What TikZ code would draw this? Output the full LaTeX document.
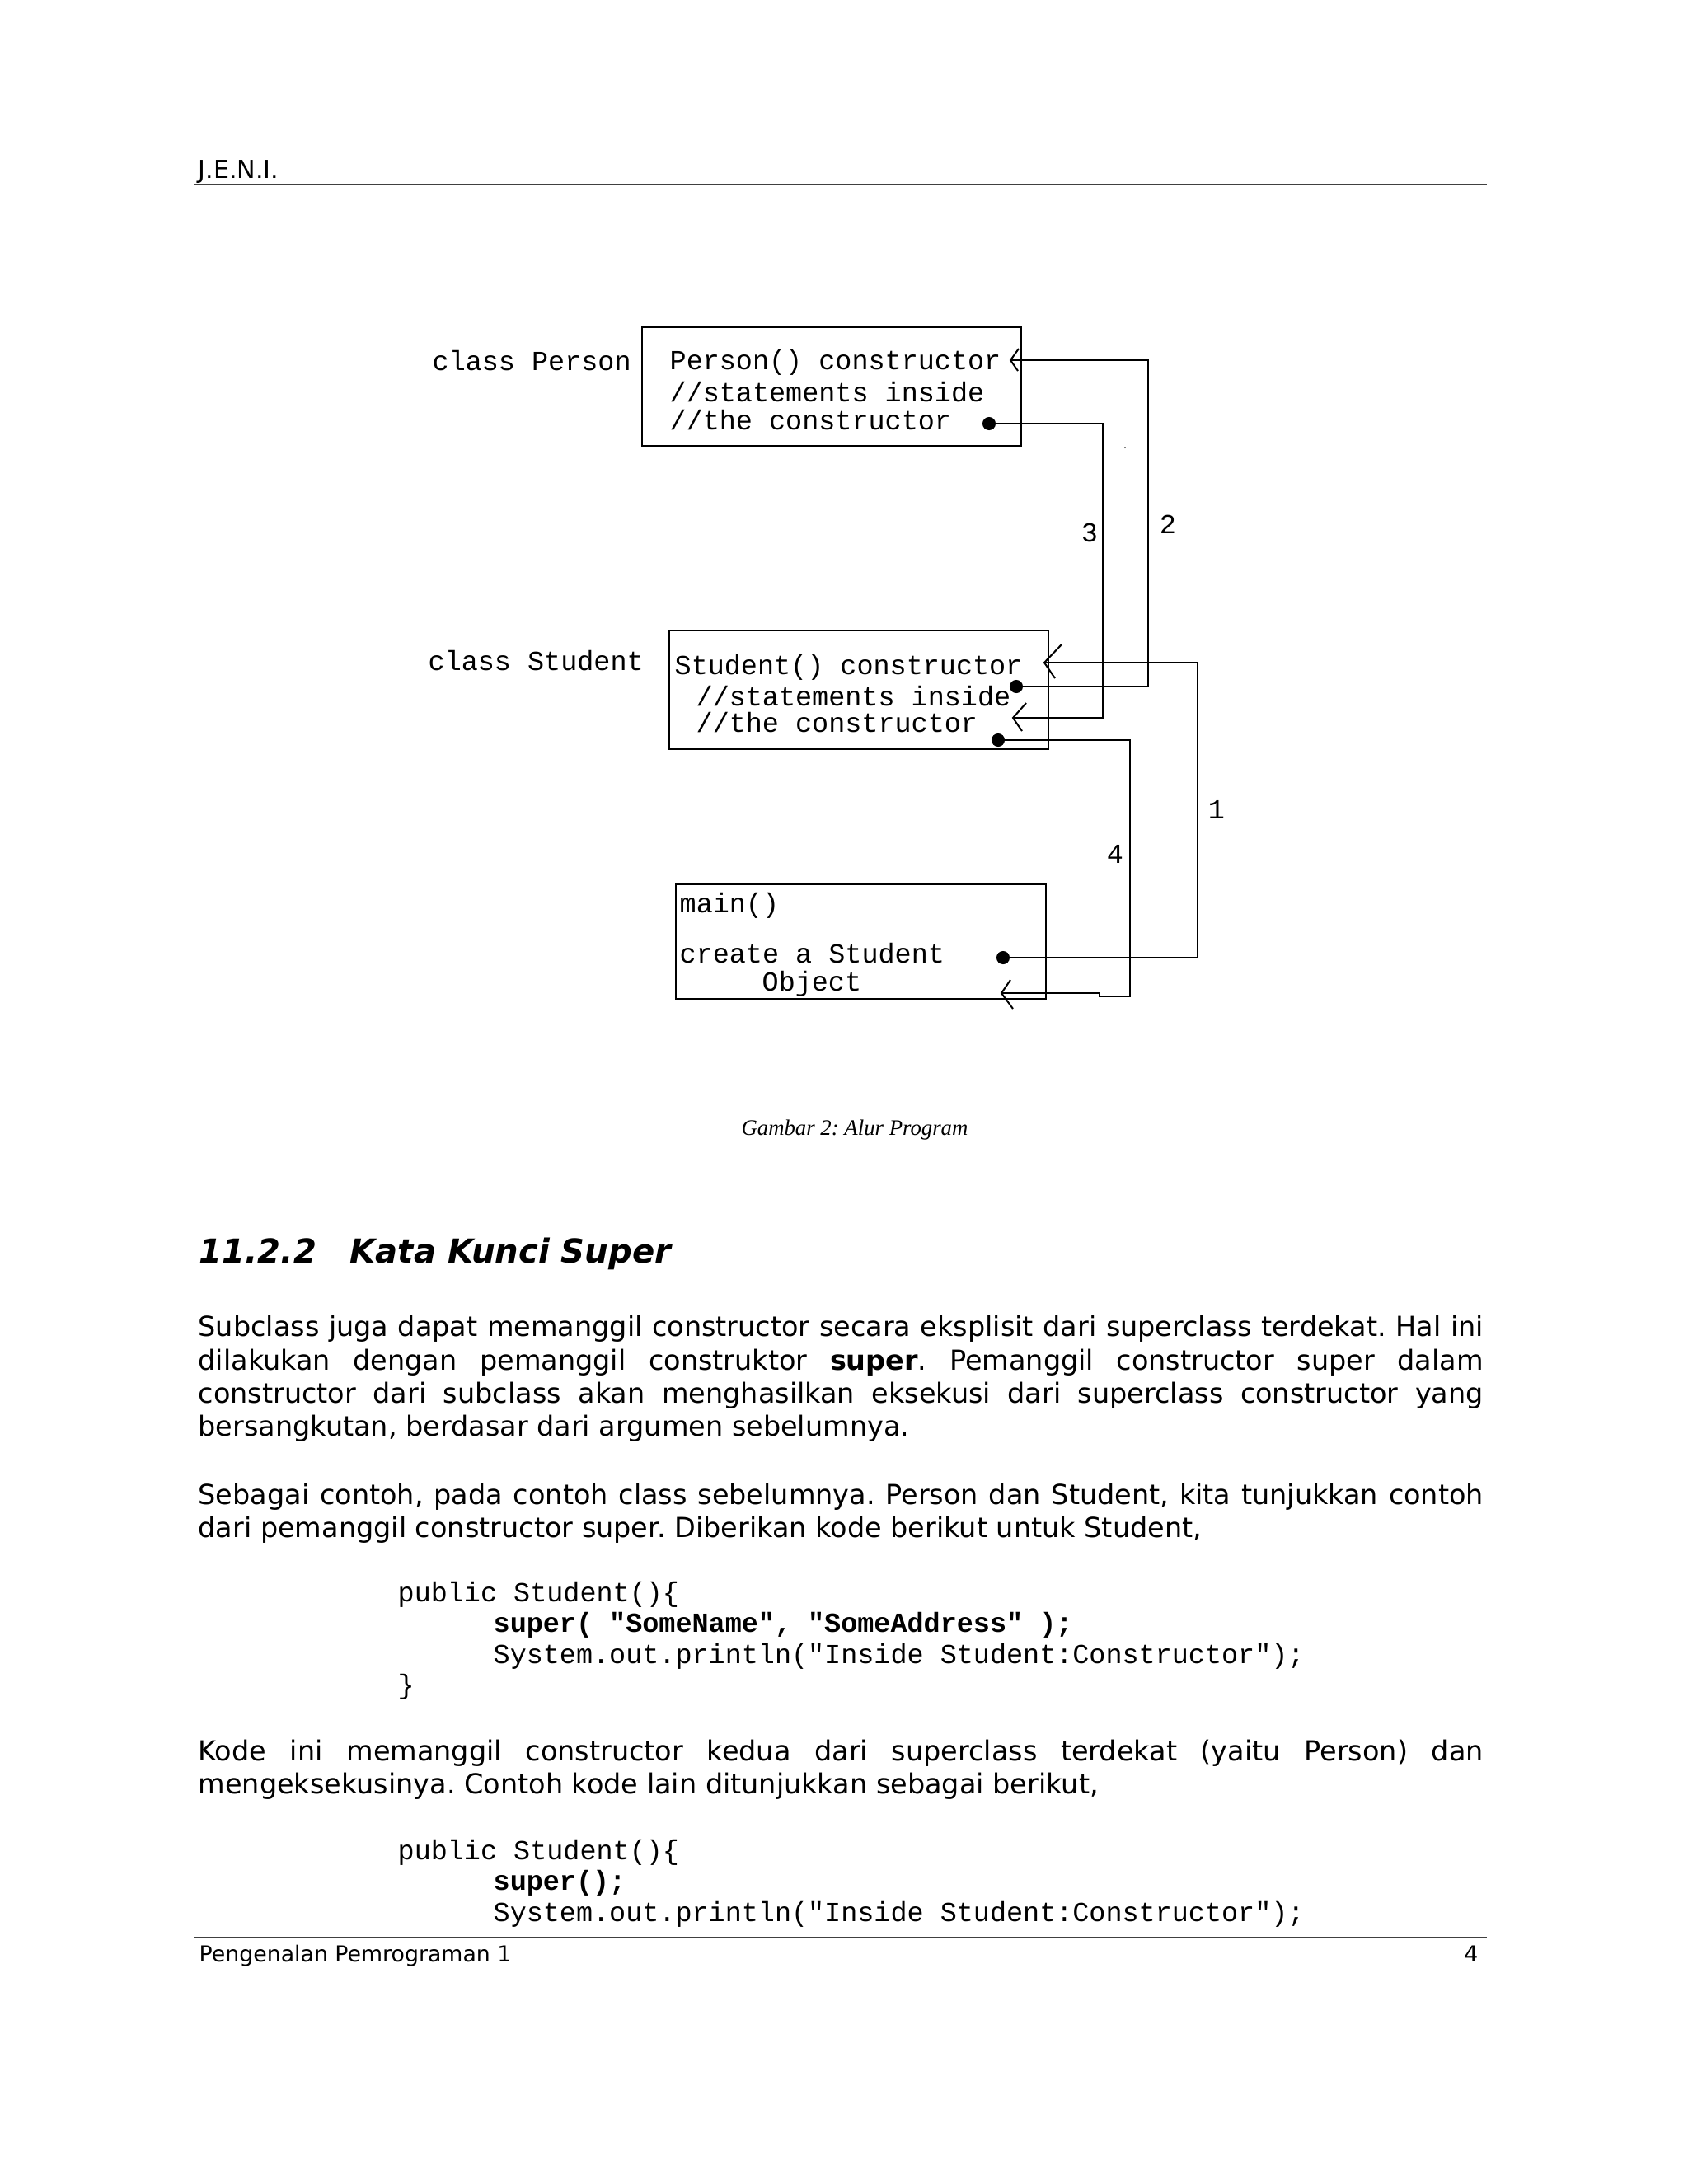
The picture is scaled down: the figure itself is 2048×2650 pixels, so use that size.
\documentclass[tikz,border=0pt]{standalone}
\usepackage{fontspec}
\setmainfont{DejaVu Sans}
\newfontfamily\codefont{Liberation Mono}
\newfontfamily\diafont{Liberation Mono}
\newfontfamily\capfont{Liberation Serif}
\usetikzlibrary{fit}
\frenchspacing
\newlength\pxu
\setlength\pxu{0.29883pt}
\newcommand\jline[1]{\makebox[1559\pxu][s]{#1}}
\tikzset{
  body/.style={anchor=base west, inner sep=0pt, font=\fontsize{10}{12}\selectfont},
  codetxt/.style={anchor=base west, inner sep=0pt, font=\codefont\fontsize{10}{11}\selectfont},
  diatxt/.style={anchor=base west, inner sep=0pt, font=\diafont\fontsize{10}{11}\selectfont},
  numlbl/.style={anchor=base, inner sep=0pt, font=\diafont\fontsize{10}{11}\selectfont},
  classbox/.style={draw, line width=0.75pt, inner sep=0pt},
  wire/.style={line width=0.6pt},
  dotmark/.style={circle, fill, inner sep=0pt, minimum size=4.8pt},
  rulel/.style={line width=0.6pt, black!75}
}
\begin{document}
\begin{tikzpicture}[x=0.29883pt, y=-0.29883pt]
\useasboundingbox (0,0) rectangle (2048,2650);

% header
\node[anchor=base west, inner sep=0pt, font=\fontsize{9}{11}\selectfont] (hdr) at (240,216) {J.E.N.I.};
\coordinate (hrl) at (235,224);
\coordinate (hrr) at (1804,224);
\draw[rulel] (hrl) -- (hrr);

% ---------- diagram ----------
\node[classbox, fit={(779,397) (1239,541)}] (person) {};
\node[classbox, fit={(812,765) (1272,909)}] (student) {};
\node[classbox, fit={(820,1073) (1269,1212)}] (mainbox) {};

\node[diatxt] (lblperson) at (524,449) {class Person};
\node[diatxt] (p1) at (812,448) {Person() constructor};
\node[diatxt] (p2) at (812,487) {//statements inside};
\node[diatxt] (p3) at (812,521) {//the constructor};

\node[diatxt] (lblstudent) at (519,813) {class Student};
\node[diatxt] (s1) at (818,818) {Student() constructor};
\node[diatxt] (s2) at (844,856) {//statements inside};
\node[diatxt] (s3) at (844,888) {//the constructor};

\node[diatxt] (m1) at (824,1107) {main()};
\node[diatxt] (m2) at (824,1168) {create a Student};
\node[diatxt] (m3) at (924,1202) {Object};

% dots
\node[dotmark] (dp) at (1200,514) {};
\node[dotmark] (ds1) at (1233,833) {};
\node[dotmark] (ds2) at (1211,898) {};
\node[dotmark] (dm) at (1217,1162) {};
\node[circle, fill, inner sep=0pt, minimum size=0.6pt] (stray) at (1365,543) {};

% arrow tips
\coordinate (tp) at (1226,437);
\coordinate (ts1) at (1267,804);
\coordinate (ts2) at (1229,871);
\coordinate (tm) at (1215,1205);

% connector 1: main -> Student()
\draw[wire] (dm.center) -- (1453,1162) -- (1453,804) -- (ts1);
\draw[wire] (ts1) ++(21,-22) -- (ts1) -- ++(13,19);
% connector 2: Student -> Person()
\draw[wire] (ds1.center) -- (1393,833) -- (1393,437) -- (tp);
\draw[wire] (tp) ++(10,-14) -- (tp) -- ++(9,13);
% connector 3: Person end -> Student
\draw[wire] (dp.center) -- (1338,514) -- (1338,871) -- (ts2);
\draw[wire] (ts2) ++(16,-18) -- (ts2) -- ++(11,16);
% connector 4: Student end -> main
\draw[wire] (ds2.center) -- (1371,898) -- (1371,1209) -- (1334,1209) -- (1334,1205) -- (tm);
\draw[wire] (tm) ++(11,-16) -- (tm) -- ++(14,19);

\node[numlbl] (n1) at (1476,993) {1};
\node[numlbl] (n2) at (1417,647) {2};
\node[numlbl] (n3) at (1322,657) {3};
\node[numlbl] (n4) at (1353,1047) {4};

% caption
\node[anchor=base, inner sep=0pt, font=\capfont\itshape\fontsize{8}{10}\selectfont] (cap) at (1037,1377) {Gambar 2: Alur Program};

% heading
\node[anchor=base west, inner sep=0pt, font=\fontsize{12}{14}\selectfont\bfseries\itshape] (secnum) at (241,1532) {11.2.2};
\node[anchor=base west, inner sep=0pt, font=\fontsize{12}{14}\selectfont\bfseries\itshape] (sectitle) at (424,1532) {Kata Kunci Super};

% paragraph 1
\node[body] (a1) at (240,1621) {\jline{Subclass juga dapat memanggil constructor secara eksplisit dari superclass terdekat. Hal ini}};
\node[body] (a2) at (240,1662) {\jline{dilakukan dengan pemanggil construktor \textbf{super}. Pemanggil constructor super dalam}};
\node[body] (a3) at (240,1702) {\jline{constructor dari subclass akan menghasilkan eksekusi dari superclass constructor yang}};
\node[body] (a4) at (240,1742) {bersangkutan, berdasar dari argumen sebelumnya.};

% paragraph 2
\node[body] (b1) at (240,1825) {\jline{Sebagai contoh, pada contoh class sebelumnya. Person dan Student, kita tunjukkan contoh}};
\node[body] (b2) at (240,1865) {dari pemanggil constructor super. Diberikan kode berikut untuk Student,};

% code 1
\node[codetxt] (c1a) at (482,1943) {public Student()\{};
\node[codetxt] (c1b) at (598,1980.5) {\bfseries super( "SomeName", "SomeAddress" );};
\node[codetxt] (c1c) at (598,2018) {System.out.println("Inside Student:Constructor");};
\node[codetxt] (c1d) at (482,2055.5) {\}};

% paragraph 3
\node[body] (k1) at (240,2136) {\jline{Kode ini memanggil constructor kedua dari superclass terdekat (yaitu Person) dan}};
\node[body] (k2) at (240,2176) {mengeksekusinya. Contoh kode lain ditunjukkan sebagai berikut,};

% code 2
\node[codetxt] (c2a) at (482,2256) {public Student()\{};
\node[codetxt] (c2b) at (598,2293.5) {\bfseries super();};
\node[codetxt] (c2c) at (598,2331) {System.out.println("Inside Student:Constructor");};

% footer
\coordinate (frl) at (235,2351);
\coordinate (frr) at (1804,2351);
\draw[rulel] (frl) -- (frr);
\node[anchor=base west, inner sep=0pt, font=\fontsize{8}{10}\selectfont] (foot) at (241,2380) {Pengenalan Pemrograman 1};
\node[anchor=base east, inner sep=0pt, font=\fontsize{8}{10}\selectfont] (pg) at (1794,2380) {4};
\end{tikzpicture}
\end{document}
